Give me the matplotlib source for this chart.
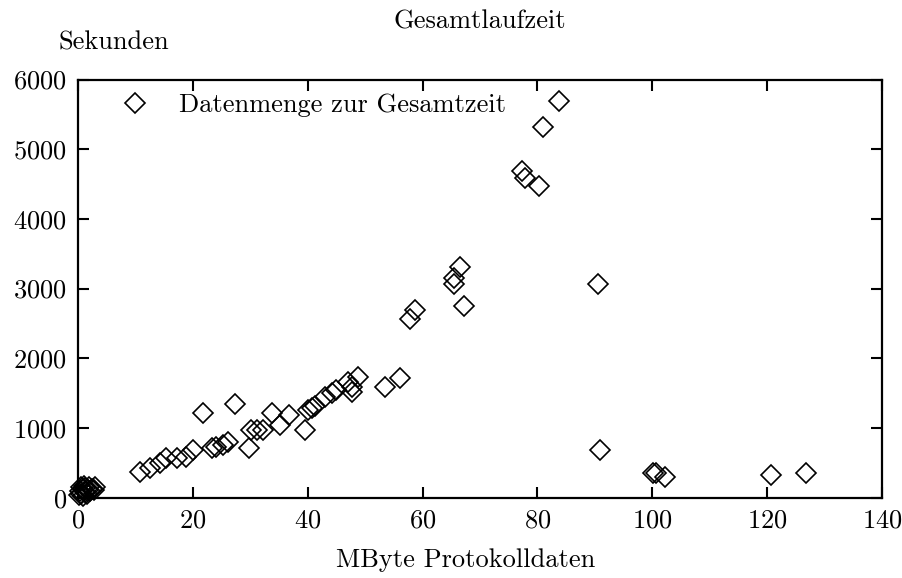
import matplotlib
matplotlib.use("agg")
from matplotlib import pyplot as plt

# MByte Protokolldaten vs. Gesamtlaufzeit in Sekunden
mbyte = [0.2, 0.4, 0.5, 0.6, 0.8, 0.9, 1.0, 1.2, 1.3, 1.5,
         1.7, 1.9, 2.1, 2.4, 2.8, 3.0,
         10.8, 12.5, 14.3, 15.3, 17.2, 18.8, 20.1, 21.7, 23.3, 24.1,
         25.3, 26.2, 27.3, 29.7, 30.2, 31.1, 32.3, 33.7, 35.1, 36.8,
         39.5, 40.1, 40.7, 41.3, 43.0, 44.2, 45.0, 47.1, 47.7, 47.7,
         48.8, 53.5, 56.1, 57.8, 58.7, 65.5, 65.5, 66.6, 67.2, 77.4,
         77.8, 80.2, 81.0, 83.8, 90.5, 90.9, 100.1, 100.6, 102.2, 120.6,
         126.8]
sekunden = [40, 90, 150, 60, 120, 30, 170, 80, 140, 60,
            110, 160, 90, 130, 110, 150,
            364, 421, 493, 565, 565, 579, 684, 1220, 709, 732,
            756, 803, 1344, 709, 971, 971, 971, 1211, 1043, 1187,
            971, 1258, 1283, 1316, 1449, 1498, 1545, 1664, 1593, 1521,
            1736, 1593, 1713, 2560, 2693, 3066, 3148, 3305, 2750, 4692,
            4582, 4472, 5323, 5696, 3066, 684, 350, 350, 301, 326,
            350]

x_ticks = [0, 20, 40, 60, 80, 100, 120, 140]
y_ticks = [0, 1000, 2000, 3000, 4000, 5000, 6000]

FONT = 19
plt.rcParams["font.family"] = ["cmr10", "DejaVu Serif"]
plt.rcParams["axes.formatter.use_mathtext"] = True

fig = plt.figure(figsize=(9.03, 5.78), dpi=100)
ax = fig.add_axes((78 / 903, 80.3 / 578, 804 / 903, 418.2 / 578))

# gnuplot does not clip the points at the border
ax.plot(mbyte, sekunden, linestyle="none", marker="D", markersize=10.5,
        markerfacecolor="none", markeredgecolor="black", markeredgewidth=1.2,
        label="Datenmenge zur Gesamtzeit", clip_on=False, zorder=3)

ax.set_xlim(0, 140)
ax.set_ylim(0, 6000)
ax.set_xticks(x_ticks)
ax.set_yticks(y_ticks)
ax.tick_params(direction="in", length=8, width=1.5, top=True, right=True,
               labelsize=FONT, pad=8)
for spine in ax.spines.values():
    spine.set_linewidth(1.6)

ax.legend(loc="upper left", bbox_to_anchor=(0.022, 1.024), frameon=False,
          fontsize=FONT, handlelength=1.2, handletextpad=1.05)

fig.text(480 / 903, 1 - 22 / 578, "Gesamtlaufzeit", ha="center", va="center",
         fontsize=FONT)
fig.text(114 / 903, 1 - 43 / 578, "Sekunden", ha="center", va="center",
         fontsize=FONT)
fig.text(466 / 903, 1 - 560 / 578, "MByte Protokolldaten", ha="center",
         va="center", fontsize=FONT)

fig.savefig("out.png", dpi=100)
